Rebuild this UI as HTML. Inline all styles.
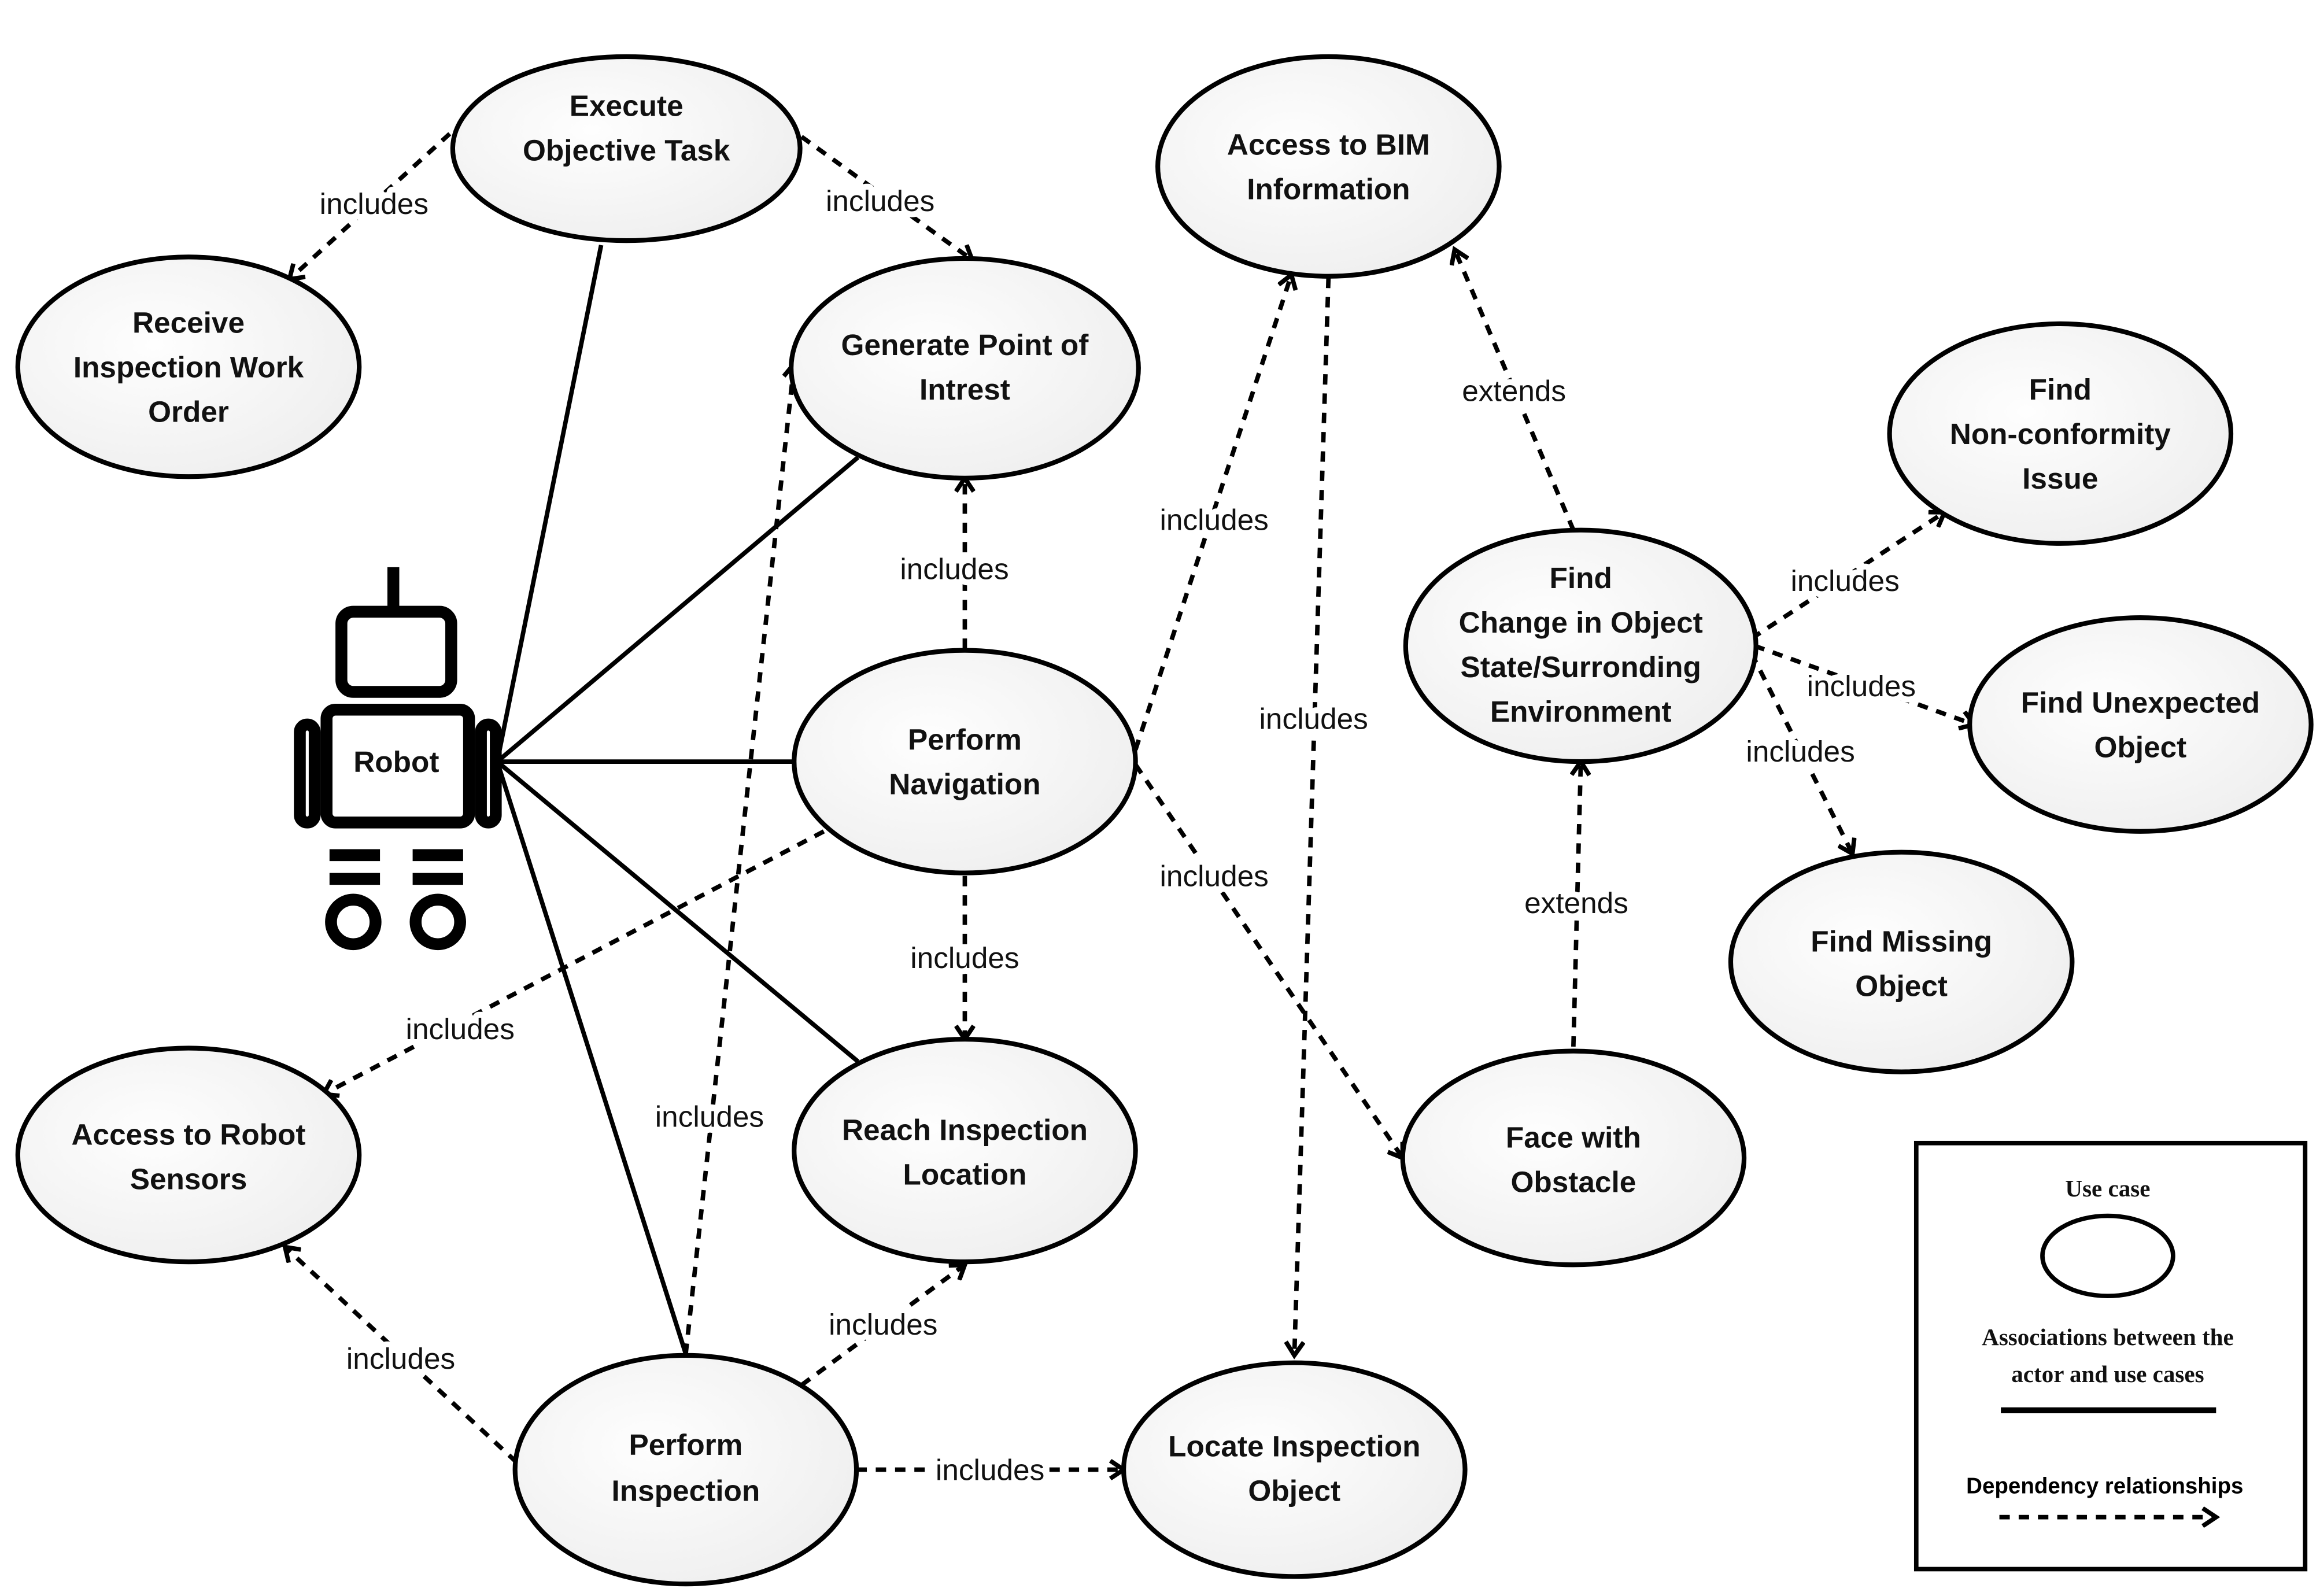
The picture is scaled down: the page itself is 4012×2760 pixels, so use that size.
<!DOCTYPE html>
<html><head><meta charset="utf-8"><style>
html,body{margin:0;padding:0;background:#fff;}
svg{display:block;}
.n{font-family:"Liberation Sans",sans-serif;font-weight:bold;font-size:20px;text-anchor:middle;fill:#111;}
.l{font-family:"Liberation Sans",sans-serif;font-size:20px;text-anchor:middle;fill:#111;paint-order:stroke;stroke:#fff;stroke-width:8px;stroke-linejoin:round;}
.g{font-family:"Liberation Serif",serif;font-weight:bold;font-size:16px;text-anchor:middle;fill:#111;}
.s{stroke:#000;stroke-width:3;fill:none;}
.d{stroke:#000;stroke-width:3;fill:none;stroke-dasharray:7,6;marker-end:url(#a);}
.e{stroke:#000;stroke-width:3.2;fill:url(#gr);}
</style></head><body>
<svg width="4012" height="2760" viewBox="0 0 1563 1075" xmlns="http://www.w3.org/2000/svg">
<defs>
<radialGradient id="gr" cx="0.4" cy="0.4" r="0.7"><stop offset="0" stop-color="#fefefe"/><stop offset="1" stop-color="#eeeeee"/></radialGradient>
<marker id="a" markerWidth="14" markerHeight="14" refX="11" refY="7" orient="auto" markerUnits="userSpaceOnUse"><polyline points="2,1 11,7 2,13" fill="none" stroke="#000" stroke-width="3"/></marker>
</defs>
<rect width="1563" height="1075" fill="#fff"/>
<line class="s" x1="335" y1="513" x2="405" y2="165"/>
<line class="s" x1="335" y1="513" x2="578" y2="308"/>
<line class="s" x1="335" y1="513" x2="536" y2="513"/>
<line class="s" x1="335" y1="513" x2="578" y2="715"/>
<line class="s" x1="335" y1="513" x2="462" y2="912"/>
<line class="d" x1="303" y1="90" x2="195" y2="188"/>
<line class="d" x1="540" y1="92" x2="655" y2="175"/>
<line class="d" x1="650" y1="437" x2="650" y2="322"/>
<line class="d" x1="650" y1="590" x2="650" y2="700"/>
<line class="d" x1="555" y1="560" x2="218" y2="737"/>
<line class="d" x1="765" y1="505" x2="870" y2="185"/>
<line class="d" x1="765" y1="515" x2="945" y2="780"/>
<line class="d" x1="895" y1="187" x2="872" y2="913"/>
<line class="d" x1="1060" y1="357" x2="980" y2="168"/>
<line class="d" x1="1060" y1="705" x2="1065" y2="513"/>
<line class="d" x1="1180" y1="430" x2="1310" y2="345"/>
<line class="d" x1="1182" y1="435" x2="1330" y2="488"/>
<line class="d" x1="1180" y1="440" x2="1248" y2="575"/>
<line class="d" x1="462" y1="912" x2="535" y2="245"/>
<line class="d" x1="540" y1="933" x2="650" y2="852"/>
<line class="d" x1="577" y1="990" x2="757" y2="990"/>
<line class="d" x1="348" y1="985" x2="192" y2="840"/>
<g class="l">
<text x="252" y="144">includes</text>
<text x="593" y="142">includes</text>
<text x="643" y="390">includes</text>
<text x="650" y="652">includes</text>
<text x="310" y="700">includes</text>
<text x="818" y="357">includes</text>
<text x="818" y="597">includes</text>
<text x="885" y="491">includes</text>
<text x="1020" y="270">extends</text>
<text x="1062" y="615">extends</text>
<text x="1243" y="398">includes</text>
<text x="1254" y="469">includes</text>
<text x="1213" y="513">includes</text>
<text x="478" y="759">includes</text>
<text x="595" y="899">includes</text>
<text x="667" y="997">includes</text>
<text x="270" y="922">includes</text>
</g>
<ellipse class="e" cx="422" cy="100" rx="117" ry="62"/>
<ellipse class="e" cx="127" cy="247" rx="115" ry="74"/>
<ellipse class="e" cx="650" cy="248" rx="117" ry="74"/>
<ellipse class="e" cx="895" cy="112" rx="115" ry="74"/>
<ellipse class="e" cx="1388" cy="292" rx="115" ry="74"/>
<ellipse class="e" cx="1065" cy="435" rx="118" ry="78"/>
<ellipse class="e" cx="1442" cy="488" rx="115" ry="72"/>
<ellipse class="e" cx="1281" cy="648" rx="115" ry="74"/>
<ellipse class="e" cx="650" cy="513" rx="115" ry="75"/>
<ellipse class="e" cx="650" cy="775" rx="115" ry="75"/>
<ellipse class="e" cx="127" cy="778" rx="115" ry="72"/>
<ellipse class="e" cx="1060" cy="780" rx="115" ry="72"/>
<ellipse class="e" cx="462" cy="990" rx="115" ry="77"/>
<ellipse class="e" cx="872" cy="990" rx="115" ry="72"/>
<g class="n">
<text x="422" y="78">Execute</text><text x="422" y="108">Objective Task</text>
<text x="127" y="224">Receive</text><text x="127" y="254">Inspection Work</text><text x="127" y="284">Order</text>
<text x="650" y="239">Generate Point of</text><text x="650" y="269">Intrest</text>
<text x="895" y="104">Access to BIM</text><text x="895" y="134">Information</text>
<text x="1388" y="269">Find</text><text x="1388" y="299">Non-conformity</text><text x="1388" y="329">Issue</text>
<text x="1065" y="396">Find</text><text x="1065" y="426">Change in Object</text><text x="1065" y="456">State/Surronding</text><text x="1065" y="486">Environment</text>
<text x="1442" y="480">Find Unexpected</text><text x="1442" y="510">Object</text>
<text x="1281" y="641">Find Missing</text><text x="1281" y="671">Object</text>
<text x="650" y="505">Perform</text><text x="650" y="535">Navigation</text>
<text x="650" y="768">Reach Inspection</text><text x="650" y="798">Location</text>
<text x="127" y="771">Access to Robot</text><text x="127" y="801">Sensors</text>
<text x="1060" y="773">Face with</text><text x="1060" y="803">Obstacle</text>
<text x="462" y="980">Perform</text><text x="462" y="1011">Inspection</text>
<text x="872" y="981">Locate Inspection</text><text x="872" y="1011">Object</text>
</g>
<g stroke="#000" stroke-width="8" fill="none">
<line x1="265" y1="382" x2="265" y2="412"/>
<rect x="230" y="412" width="74" height="54" rx="8"/>
<rect x="220" y="478" width="96" height="76" rx="6"/>
<rect x="202" y="488" width="10" height="66" rx="5"/>
<rect x="324" y="488" width="10" height="66" rx="5"/>
<line x1="222" y1="576" x2="256" y2="576"/><line x1="278" y1="576" x2="312" y2="576"/>
<line x1="222" y1="592" x2="256" y2="592"/><line x1="278" y1="592" x2="312" y2="592"/>
<circle cx="238" cy="621" r="15"/><circle cx="295" cy="621" r="15"/>
</g>
<text class="n" x="267" y="520">Robot</text>
<rect x="1291" y="770" width="262" height="287" fill="#fff" stroke="#000" stroke-width="3"/>
<text class="g" x="1420" y="806">Use case</text>
<ellipse cx="1420" cy="846" rx="44" ry="27" fill="#fff" stroke="#000" stroke-width="3"/>
<text class="g" x="1420" y="906">Associations between the</text>
<text class="g" x="1420" y="931">actor and use cases</text>
<line x1="1348" y1="950" x2="1493" y2="950" stroke="#000" stroke-width="4"/>
<text x="1418" y="1006" font-family="Liberation Sans,sans-serif" font-weight="bold" font-size="15" text-anchor="middle">Dependency relationships</text>
<line class="d" x1="1347" y1="1022" x2="1493" y2="1022"/>
</svg>
</body></html>
